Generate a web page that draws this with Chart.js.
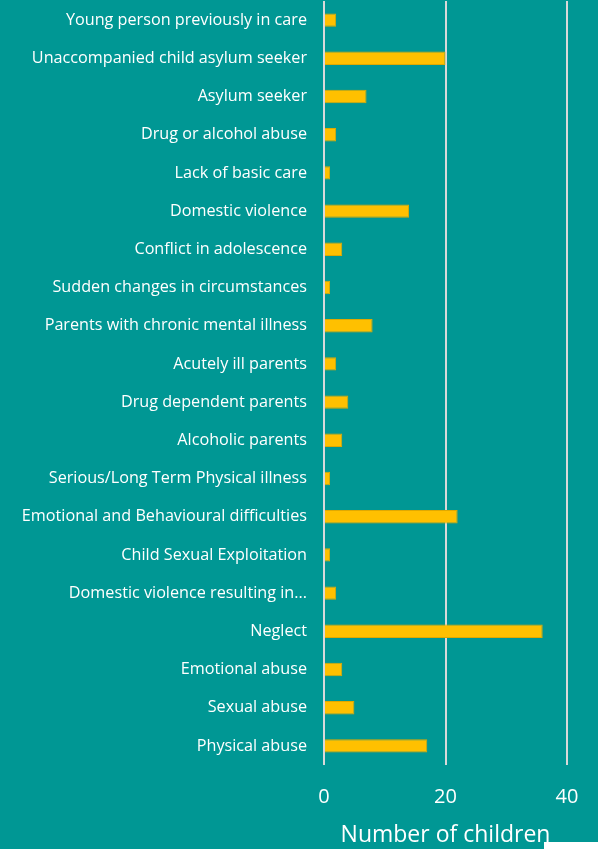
<!DOCTYPE html>
<html>
<head>
<meta charset="utf-8">
<script src="https://cdn.jsdelivr.net/npm/chart.js@4/dist/chart.umd.min.js"></script>
<style>
  html, body { margin: 0; padding: 0; background: #009794; }
  #wrap { width: 598px; height: 849px; }
</style>
</head>
<body>
<div id="wrap"><canvas id="reasons"></canvas></div>
<script>
// categories top to bottom, as in the picture
const categories = [
  "Young person previously in care",
  "Unaccompanied child asylum seeker",
  "Asylum seeker",
  "Drug or alcohol abuse",
  "Lack of basic care",
  "Domestic violence",
  "Conflict in adolescence",
  "Sudden changes in circumstances",
  "Parents with chronic mental illness",
  "Acutely ill parents",
  "Drug dependent parents",
  "Alcoholic parents",
  "Serious/Long Term Physical illness",
  "Emotional and Behavioural difficulties",
  "Child Sexual Exploitation",
  "Domestic violence resulting in...",
  "Neglect",
  "Emotional abuse",
  "Sexual abuse",
  "Physical abuse"
];
const children = [2, 20, 7, 2, 1, 14, 3, 1, 8, 2, 4, 3, 1, 22, 1, 2, 36, 3, 5, 17];
const xTicks = [0, 20, 40];
const xTitle = "Number of children";

const fontFamily = "'Open Sans', 'Noto Sans', sans-serif";

// the white smudge in the bottom right corner of the source image
const corner = {
  id: "corner",
  afterDraw(chart) {
    const c = chart.ctx;
    c.save();
    c.fillStyle = "#ffffff";
    c.fillRect(chart.width - 54, chart.height - 7, 54, 7);
    c.restore();
  }
};

new Chart(document.getElementById("reasons"), {
  type: "bar",
  data: {
    labels: categories,
    datasets: [{
      label: xTitle,
      data: children,
      backgroundColor: "#ffc000",
      borderColor: "#e0a900",
      borderWidth: 1,
      barPercentage: 0.7,
      categoryPercentage: 0.5
    }]
  },
  options: {
    indexAxis: "y",
    responsive: true,
    maintainAspectRatio: false,
    animation: false,
    layout: { padding: { top: 1, right: 31, left: 0, bottom: 0 } },
    plugins: { legend: { display: false }, tooltip: { enabled: false } },
    scales: {
      x: {
        min: 0,
        max: 40,
        afterBuildTicks: s => { s.ticks = xTicks.map(v => ({ value: v })); },
        afterFit: s => { s.height = 84; s.paddingLeft = 0; s.paddingRight = 0; },
        grid: { color: "#d9d9d9", lineWidth: 2, drawTicks: false },
        border: { display: false },
        ticks: { color: "#ffffff", font: { family: fontFamily, size: 20 }, padding: 20 },
        title: {
          display: true, text: xTitle, color: "#ffffff",
          font: { family: fontFamily, size: 23 }, padding: { top: 2, bottom: 0 }
        }
      },
      y: {
        afterFit: s => { s.width = 324; s.paddingTop = 0; s.paddingBottom = 0; },
        grid: { display: false, drawTicks: false },
        border: { display: false },
        ticks: { color: "#ffffff", font: { family: fontFamily, size: 16.2 }, padding: 17 }
      }
    }
  },
  plugins: [corner]
});
</script>
</body>
</html>
